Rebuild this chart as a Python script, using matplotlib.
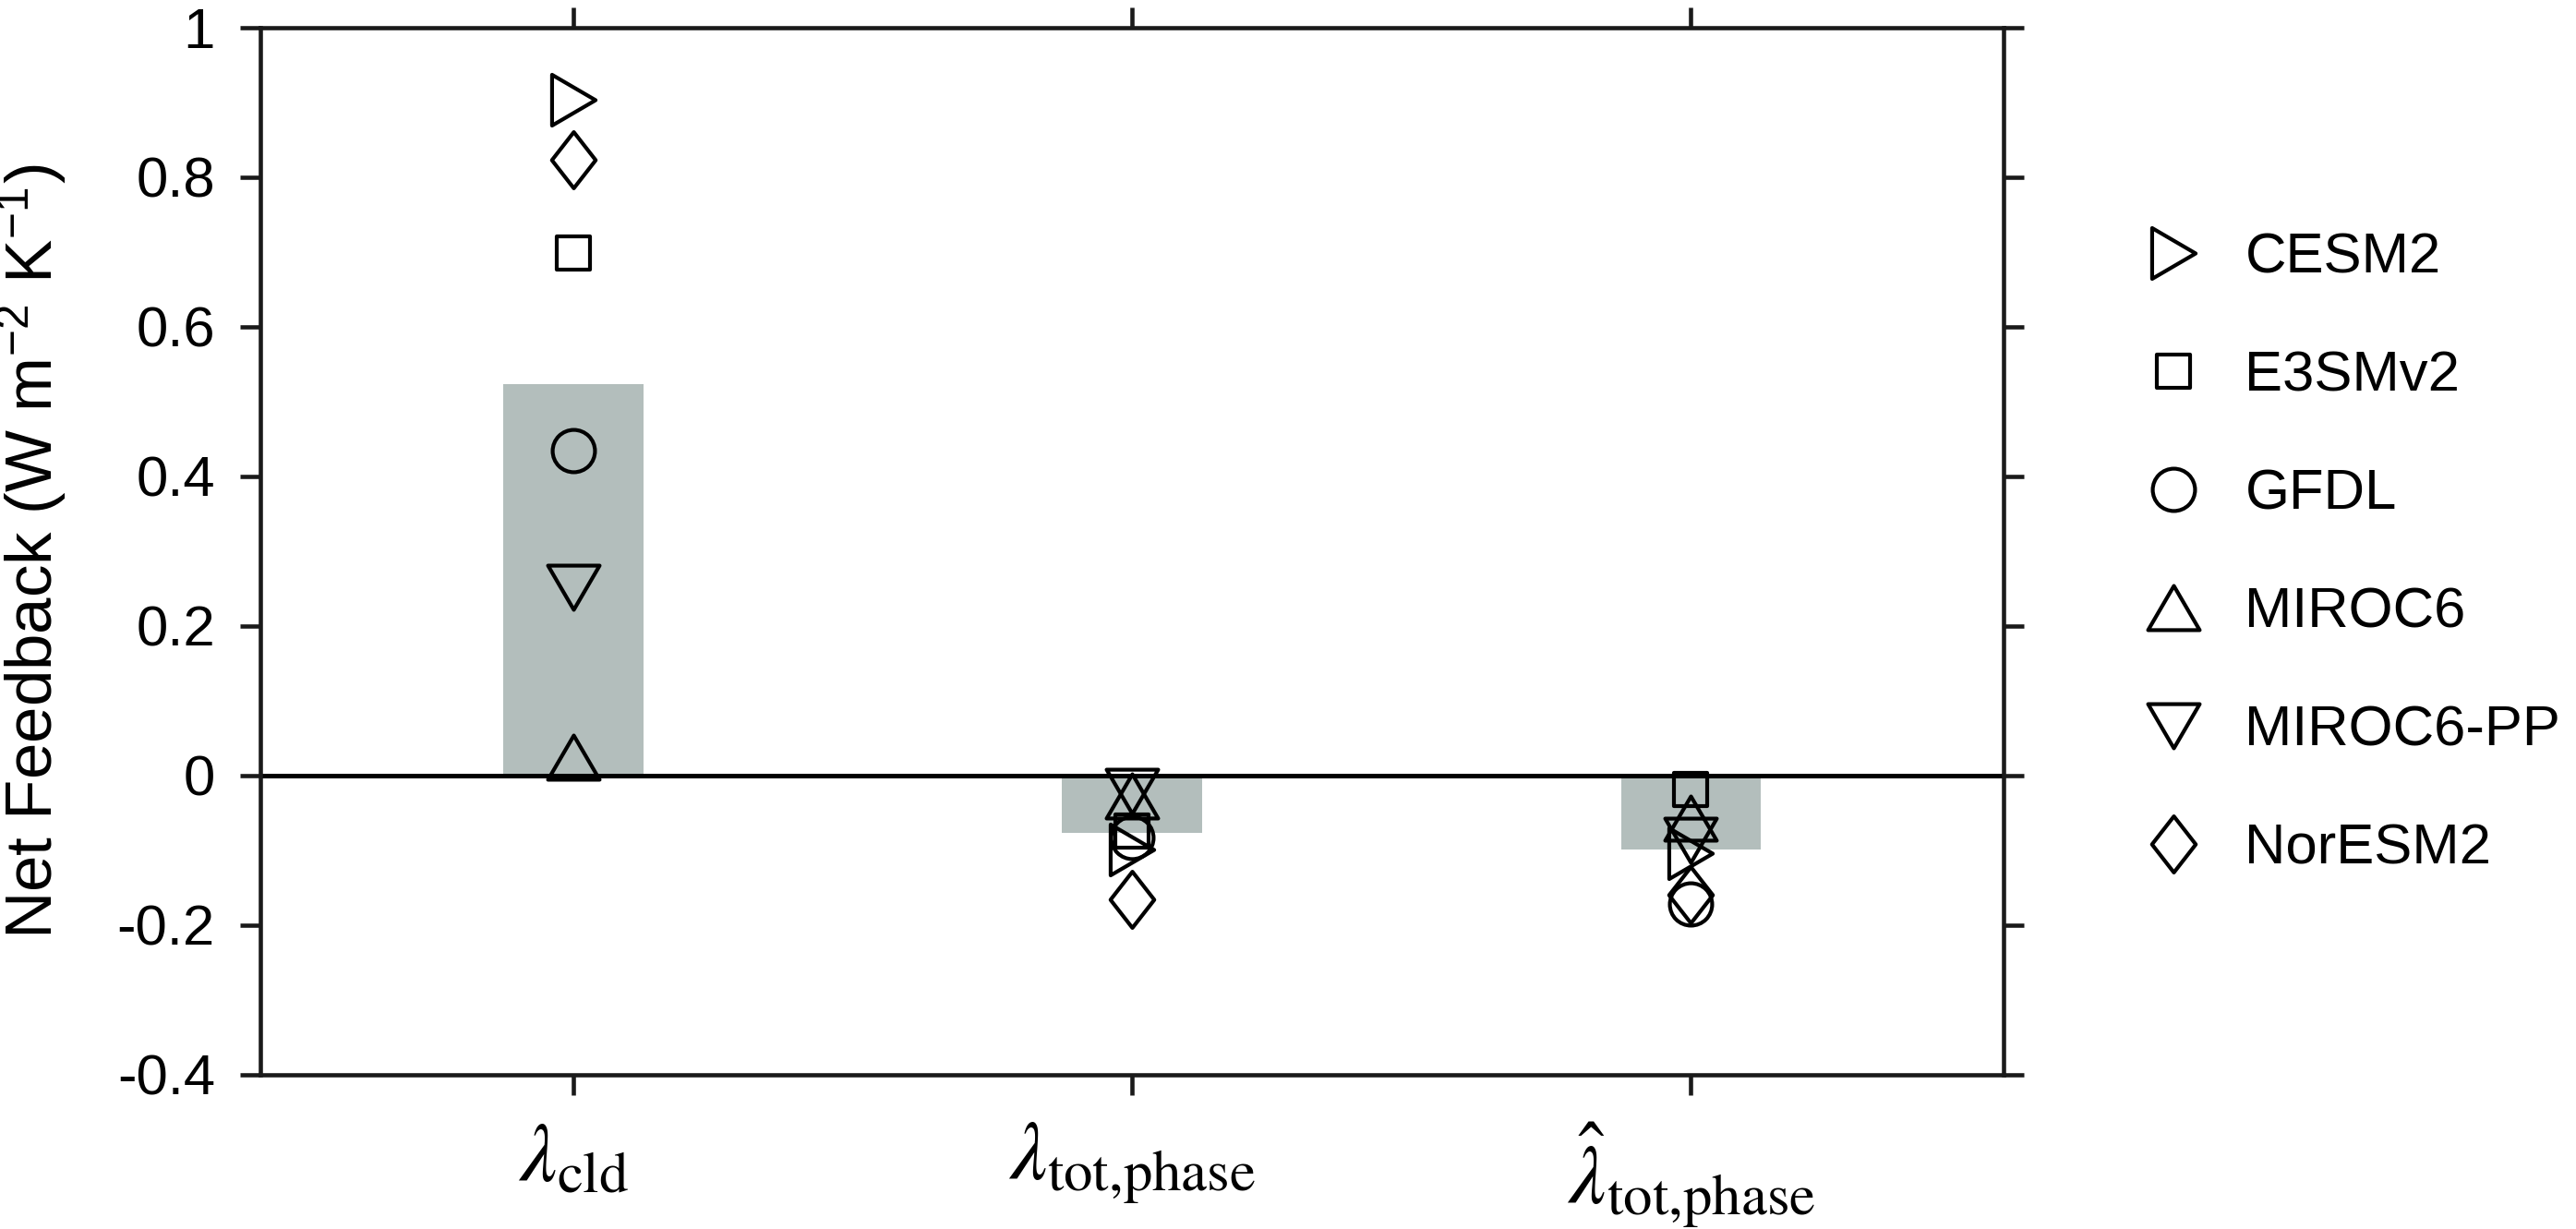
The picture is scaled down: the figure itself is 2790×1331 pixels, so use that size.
import numpy as np
import matplotlib
matplotlib.use('Agg')
import matplotlib.pyplot as plt
from matplotlib.path import Path
from matplotlib.lines import Line2D
from matplotlib.ticker import FuncFormatter

plt.rcParams['font.family'] = ['Liberation Sans', 'DejaVu Sans']
plt.rcParams['mathtext.fontset'] = 'stix'
plt.rcParams['axes.unicode_minus'] = False

# values
models = ['CESM2', 'E3SMv2', 'GFDL', 'MIROC6', 'MIROC6-PP', 'NorESM2']
lam_cld = [0.904, 0.699, 0.435, 0.025, 0.252, 0.824]
lam_tot_phase = [-0.099, -0.074, -0.083, -0.027, -0.021, -0.165]
lam_tot_phase_hat = [-0.104, -0.018, -0.172, -0.057, -0.087, -0.159]
bar_means = [0.523, -0.077, -0.099]
xlabels = [r'$\lambda_{\mathrm{cld}}$', r'$\lambda_{\mathrm{tot{,}phase}}$',
           r'$\hat{\lambda}_{\mathrm{tot{,}phase}}$']

# matlab-like marker shapes
h = 0.857
tri_up = Path([(-1, -h), (1, -h), (0, h), (-1, -h)], closed=True)
tri_dn = Path([(-1, h), (1, h), (0, -h), (-1, h)], closed=True)
tri_rt = Path([(-h, -1), (-h, 1), (h, 0), (-h, -1)], closed=True)
sq = Path([(-1, -1), (1, -1), (1, 1), (-1, 1), (-1, -1)], closed=True)
dia = Path([(0, -1), (0.78, 0), (0, 1), (-0.78, 0), (0, -1)], closed=True)
markers = [tri_rt, sq, 'o', tri_up, tri_dn, dia]
msizes = [13.2, 8.6, 11.0, 13.4, 13.4, 14.6]
mew = 1.0

fig = plt.figure(figsize=(9.3, 1331/300), dpi=300)
ax = fig.add_axes([0.1011, 0.1255, 0.6767, 0.852])

xpos = np.arange(1, 4)
ax.bar(xpos, bar_means, width=0.25, color='#B3BEBC', zorder=1)
ax.axhline(0, color='k', lw=1.2, zorder=2)

groups = [lam_cld, lam_tot_phase, lam_tot_phase_hat]
for i, m in enumerate(models):
    vals = [g[i] for g in groups]
    ax.plot(xpos, vals, ls='none', marker=markers[i], ms=msizes[i],
            mfc='none', mec='k', mew=mew, zorder=3)

ax.set_xlim(0.44, 3.56)
ax.set_ylim(-0.4, 1.0)
ax.set_yticks(np.arange(-0.4, 1.01, 0.2))
ax.yaxis.set_major_formatter(FuncFormatter(lambda v, p: '%g' % round(v, 2)))
ax.set_xticks(xpos)
ax.set_xticklabels(xlabels)

for s in ax.spines.values():
    s.set_linewidth(1.1)
    s.set_color('#1a1a1a')
ax.tick_params(direction='out', length=5.3, width=1.1, color='#1a1a1a',
               top=True, right=True)
ax.tick_params(axis='y', labelsize=14.8, pad=6.5)
ax.tick_params(axis='x', labelsize=21.5, pad=6.5)

ax.set_ylabel('Net Feedback (W m$^{\\mathregular{-2}}$ K$^{\\mathregular{-1}}$)', fontsize=17)
ax.yaxis.set_label_coords(-0.110, 0.5)

handles = [Line2D([], [], ls='none', marker=markers[i], ms=msizes[i],
                  mfc='none', mec='k', mew=mew) for i in range(len(models))]
fig.legend(handles, models, loc='upper left', bbox_to_anchor=(0.8326, 0.811),
           frameon=False, fontsize=14.8, handlelength=1.0, handletextpad=0.76,
           labelspacing=1.15, borderpad=0, borderaxespad=0, numpoints=1)

fig.savefig('out.png', dpi=300)
